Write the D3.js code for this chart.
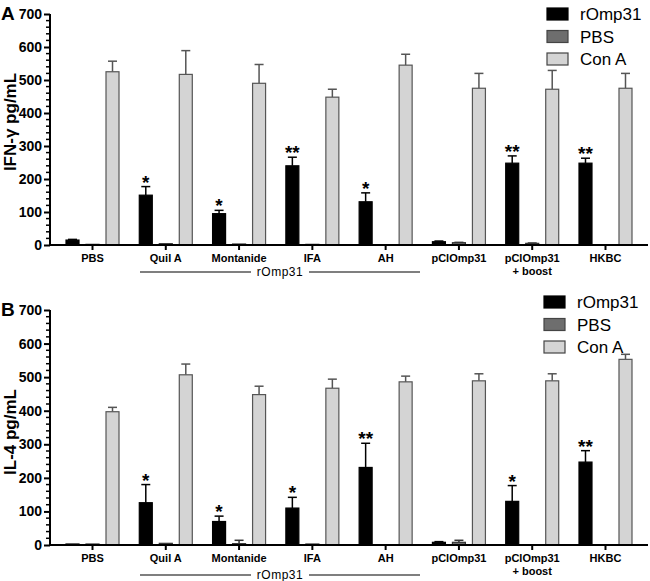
<!DOCTYPE html>
<html><head><meta charset="utf-8">
<script src="https://cdn.jsdelivr.net/npm/d3@7"></script>
<style>body{margin:0;background:#fff}svg{display:block}text{font-family:"Liberation Sans",Arial,sans-serif}</style>
</head><body>
<svg id="c" width="650" height="581"></svg>
<script>
const groups = ["PBS","Quil A","Montanide","IFA","AH","pClOmp31","pClOmp31\n+ boost","HKBC"];
const series = ["rOmp31","PBS","Con A"];
const yTicks = [0,100,200,300,400,500,600,700];

// Panel A: IFN-γ
const ifnROmp31 = [15,151,95,240,131,10,248,248];
const ifnROmp31Err = [2,26,10,26,27,2,22,15];
const ifnPBS = [2,4,3,2,0,7,5,0];
const ifnPBSErr = [0,0,0,0,0,1,1,0];
const ifnConA = [525,517,490,448,545,475,472,475];
const ifnConAErr = [32,72,57,24,33,45,57,45];
const ifnStars = ["","*","*","**","*","","**","**"];

// Panel B: IL-4
const il4ROmp31 = [3,126,70,110,231,8,130,247];
const il4ROmp31Err = [0,54,16,32,72,2,47,34];
const il4PBS = [3,5,4,3,0,8,0,0];
const il4PBSErr = [0,0,10,0,0,6,0,0];
const il4ConA = [397,507,448,467,486,489,489,553];
const il4ConAErr = [13,32,25,27,17,21,21,15];
const il4Stars = ["","*","*","*","**","","*","**"];

const svg = d3.select("#c");
const fills = {"rOmp31":"#000","PBS":"#6e6e6e","Con A":"#d4d4d4"};
const strokes = {"rOmp31":"#000","PBS":"#333","Con A":"#555"};
const errCol = {"rOmp31":"#000","PBS":"#333","Con A":"#555"};

const x = d3.scaleBand().domain(groups).range([50,648]).paddingInner(0).paddingOuter(0.08);
const xs = d3.scaleBand().domain(series).range([-30,30]).paddingInner(0.3).paddingOuter(0.15);

function panel(cfg){
  const y = d3.scaleLinear().domain([0,700]).range([cfg.y0,cfg.y1]);
  const g = svg.append("g");
  const vals = [cfg.a,cfg.b,cfg.c], errs=[cfg.ae,cfg.be,cfg.ce];
  series.forEach((s,si)=>{
    groups.forEach((grp,gi)=>{
      const cx = x(grp)+x.bandwidth()/2 + xs(s);
      const v = vals[si][gi], e = errs[si][gi];
      const top = y(v), bw = xs.bandwidth();
      if (e>0){
        const ex = cx+bw/2;
        g.append("line").attr("x1",ex).attr("x2",ex).attr("y1",top).attr("y2",y(v+e)).attr("stroke",errCol[s]).attr("stroke-width",1.5);
        g.append("line").attr("x1",ex-4.5).attr("x2",ex+4.5).attr("y1",y(v+e)).attr("y2",y(v+e)).attr("stroke",errCol[s]).attr("stroke-width",1.5);
      }
      if (v>0){
        g.append("rect").attr("x",cx+0.5).attr("y",top).attr("width",bw-1).attr("height",Math.max(y(0)-top,0.5))
          .attr("fill",fills[s]).attr("stroke",strokes[s]).attr("stroke-width",1.2);
      }
    });
  });
  // stars
  groups.forEach((grp,gi)=>{
    if(!cfg.stars[gi]) return;
    const cx = x(grp)+x.bandwidth()/2 + xs("rOmp31") + xs.bandwidth()/2;
    g.append("text").attr("x",cx).attr("y",y(cfg.a[gi]+cfg.ae[gi])+2).attr("text-anchor","middle")
      .attr("font-size",19).attr("font-weight","bold").text(cfg.stars[gi]);
  });
  // y axis
  const ya = d3.axisLeft(y).tickValues(yTicks).tickSize(6).tickPadding(2);
  const yag = g.append("g").attr("transform","translate(50,0)").call(ya);
  yag.select(".domain").attr("stroke-width",2).attr("d",`M0,${cfg.y0+1}V${cfg.y1}`);
  yag.selectAll(".tick line").attr("stroke-width",2);
  yag.selectAll(".tick text").attr("font-size",14).attr("font-weight","bold").attr("font-family","Liberation Sans, Arial, sans-serif");
  const minor = d3.range(0,701,20).filter(v=>v%100!==0);
  yag.selectAll(".mnr").data(minor).enter().append("line").attr("x1",-4).attr("x2",0).attr("y1",d=>y(d)).attr("y2",d=>y(d)).attr("stroke","#000").attr("stroke-width",1.5);
  // x axis
  const xa = d3.axisBottom(x).tickSize(5).tickFormat("");
  const xag = g.append("g").attr("transform",`translate(0,${cfg.y0})`).call(xa);
  xag.select(".domain").attr("stroke-width",2).attr("d","M49,0H648");
  xag.selectAll(".tick line").attr("stroke-width",2);
  groups.forEach(grp=>{
    const parts = grp.split("\n");
    const t = g.append("text").attr("x",x(grp)+x.bandwidth()/2).attr("y",cfg.y0+17).attr("text-anchor","middle")
      .attr("font-size",11).attr("font-weight","bold");
    parts.forEach((p,i)=>t.append("tspan").attr("x",x(grp)+x.bandwidth()/2).attr("dy",i?13:0).text(p));
  });
  // rOmp31 bracket
  const ly = cfg.y0+cfg.lineOff;
  g.append("line").attr("x1",140).attr("x2",251).attr("y1",ly).attr("y2",ly).attr("stroke","#000").attr("stroke-width",1.2);
  g.append("line").attr("x1",309).attr("x2",420).attr("y1",ly).attr("y2",ly).attr("stroke","#000").attr("stroke-width",1.2);
  g.append("text").attr("x",280).attr("y",ly+4).attr("text-anchor","middle").attr("font-size",12).attr("letter-spacing","0.5").text("rOmp31");
  // y label
  g.append("text").attr("transform",`translate(${cfg.labX},${cfg.labY}) rotate(-90)`).attr("text-anchor","middle")
    .attr("font-size",17).attr("font-weight","bold").text(cfg.label);
  // panel letter
  g.append("text").attr("x",1).attr("y",cfg.y1+6).attr("font-size",19).attr("font-weight","bold").text(cfg.letter);
  // legend
  series.forEach((s,i)=>{
    const ly2 = cfg.legY + i*22.5;
    g.append("rect").attr("x",cfg.legX).attr("y",ly2-6).attr("width",21).attr("height",12).attr("fill",fills[s]).attr("stroke",s==="rOmp31"?"#000":"#444").attr("stroke-width",1.2);
    g.append("text").attr("x",cfg.legX+33).attr("y",ly2+6).attr("font-size",17).text(s);
  });
}

panel({y0:245,y1:14,a:ifnROmp31,ae:ifnROmp31Err,b:ifnPBS,be:ifnPBSErr,c:ifnConA,ce:ifnConAErr,stars:ifnStars,
  label:"IFN-\u03b3 pg/mL",labX:16,labY:122,letter:"A",legX:547,legY:14,lineOff:27});
panel({y0:545,y1:310,a:il4ROmp31,ae:il4ROmp31Err,b:il4PBS,be:il4PBSErr,c:il4ConA,ce:il4ConAErr,stars:il4Stars,
  label:"IL-4 pg/mL",labX:16,labY:432,letter:"B",legX:544,legY:302,lineOff:30});
</script>
</body></html>
